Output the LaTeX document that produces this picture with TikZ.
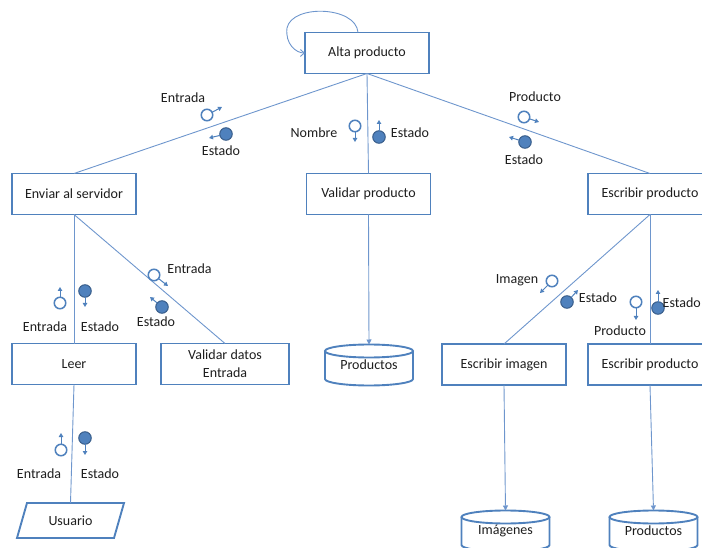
\documentclass[tikz,border=0pt]{standalone}
\usepackage{fontspec}
\setmainfont{Carlito}
\usetikzlibrary{arrows.meta,calc}
\definecolor{ofblue}{RGB}{79,129,189}
\definecolor{ofdark}{RGB}{56,93,138}
\definecolor{linkblue}{RGB}{110,150,205}
\definecolor{ink}{RGB}{30,30,30}

% a data/control couple: circle node plus a short arrow to a named tip
\newcommand\couple[4]{%
  \node[#2] (#1) at (#3) {};
  \coordinate (#1tip) at (#4);
  \draw[cplarrow] (#1) -- (#1tip);
}
% storage drum drawn around a named node
\newcommand\drum[1]{%
  \draw[cylline] ($(#1.north)+(0,6.5)$) ellipse [x radius=44pt, y radius=6.5pt];
  \draw[cylline] ($(#1.north west)+(0,6.5)$) -- ($(#1.south west)+(0,-6.5)$)
    arc[start angle=180, end angle=360, x radius=44pt, y radius=6.5pt]
    -- ($(#1.north east)+(0,6.5)$);
}

\begin{document}
\begin{tikzpicture}[x=1pt,y=-1pt,
  font=\fontsize{14}{18}\selectfont, text=ink,
  box/.style={draw=ofblue, line width=1.9pt, fill=white, minimum width=124pt,
    minimum height=41pt, inner sep=2pt, outer sep=0pt, align=center},
  cyl/.style={minimum width=88pt, minimum height=41pt, inner sep=0pt, outer sep=0pt},
  cylline/.style={draw=ofblue, line width=1.9pt},
  link/.style={draw=linkblue, line width=0.9pt},
  flow/.style={link, -{Triangle[length=5pt,width=5pt]}},
  opencpl/.style={circle, draw=ofblue, line width=1.5pt, fill=white,
    minimum size=11.5pt, inner sep=0pt, outer sep=0pt},
  fullcpl/.style={circle, draw=ofdark, line width=1pt, fill=ofblue,
    minimum size=12.5pt, inner sep=0pt, outer sep=0pt},
  cplarrow/.style={draw=ofblue, line width=1pt, -{Triangle[length=4pt,width=4.5pt]}},
  lbl/.style={inner sep=0pt}
]
\useasboundingbox (0,0) rectangle (702,548);

% modules
\node[box] (alta) at (367,53) {Alta producto};
\node[box] (env)  at (74,194) {Enviar al servidor};
\node[box] (val)  at (368.5,194) {Validar producto};
\node[box] (esc)  at (650,194) {Escribir producto};
\node[box] (leer) at (74,364) {Leer};
\node[box, minimum width=128pt] (vdat) at (225,364) {Validar datos\\Entrada};
\node[box] (eimg) at (504,364.5) {Escribir imagen};
\node[box] (esc2) at (650,364.5) {Escribir producto};

% stores
\node[cyl] (prod1) at (369,365) {\raisebox{-3pt}{Productos}};
\drum{prod1}
\node[cyl] (imgs) at (505.5,531) {\raisebox{-3pt}{Imágenes}};
\drum{imgs}
\node[cyl] (prod2) at (653.5,531) {\raisebox{-3pt}{Productos}};
\drum{prod2}

% external device
\node[minimum width=97pt, minimum height=35pt, inner sep=0pt, outer sep=0pt]
  (usr) at (70.5,520.5) {Usuario};
\draw[cylline] ($(usr.north west)+(5,0)$) -- ($(usr.north east)+(5,0)$)
  -- ($(usr.south east)+(-5,0)$) -- ($(usr.south west)+(-5,0)$) -- cycle;

% calls
\draw[link] (alta.south) -- (env.north);
\draw[link] (alta.south) -- (val.north);
\draw[link] (alta.south) -- (esc.north);
\draw[link] (env.south) -- (leer.north);
\draw[link] (env.south) -- (vdat.north);
\draw[link] (leer.south) -- (usr.north);
\draw[link] (esc.south) -- (eimg.north);
\draw[link] (esc.south) -- (esc2.north);
\draw[flow] (val.south) -- (prod1.north);
\draw[flow] (eimg.south) -- (imgs.north);
\draw[flow] (esc2.south) -- (prod2.north);

% iteration loop
\draw[link, -{Straight Barb[length=4pt,width=7pt]}] ($(alta.north)+(-9,0)$)
  .. controls (356,6) and (292,4) .. (287,28)
  .. controls (285,44) and (296,53) .. (alta.west);

% couples
\couple{c1}{opencpl}{207,115}{222,107}
\couple{c2}{fullcpl}{226,134}{209,138}
\couple{c3}{opencpl}{355,126}{355,142}
\couple{c4}{fullcpl}{379,137}{379,120}
\couple{c5}{opencpl}{524,117}{539,122}
\couple{c6}{fullcpl}{525,142}{509,137}
\couple{c7}{opencpl}{60,303}{60,287}
\couple{c8}{fullcpl}{85,291}{85,307}
\couple{c9}{opencpl}{154,275}{168,286}
\couple{c10}{fullcpl}{162,307}{150,297}
\couple{c11}{opencpl}{61,450}{61,433}
\couple{c12}{fullcpl}{85,438}{85,455}
\couple{c13}{opencpl}{552,281}{540,293}
\couple{c14}{fullcpl}{567,302}{578,290}
\couple{c15}{opencpl}{636,302}{636,320}
\couple{c16}{fullcpl}{658,308}{658,290}

% couple labels
\node[lbl] (t1)  at (183,98)  {Entrada};
\node[lbl] (t2)  at (221,151) {Estado};
\node[lbl] (t3)  at (314,133) {Nombre};
\node[lbl] (t4)  at (410,133) {Estado};
\node[lbl] (t5)  at (535,97)  {Producto};
\node[lbl] (t6)  at (524,160) {Estado};
\node[lbl] (t7)  at (45,327)  {Entrada};
\node[lbl] (t8)  at (100,327) {Estado};
\node[lbl] (t9)  at (189.5,269) {Entrada};
\node[lbl] (t10) at (156,322) {Estado};
\node[lbl] (t11) at (39,474)  {Entrada};
\node[lbl] (t12) at (100,474) {Estado};
\node[lbl] (t13) at (517,280) {Imagen};
\node[lbl] (t14) at (598,298) {Estado};
\node[lbl] (t15) at (620,331) {Producto};
\node[lbl, anchor=east] (t16) at (701,303) {Estado};
\end{tikzpicture}
\end{document}
